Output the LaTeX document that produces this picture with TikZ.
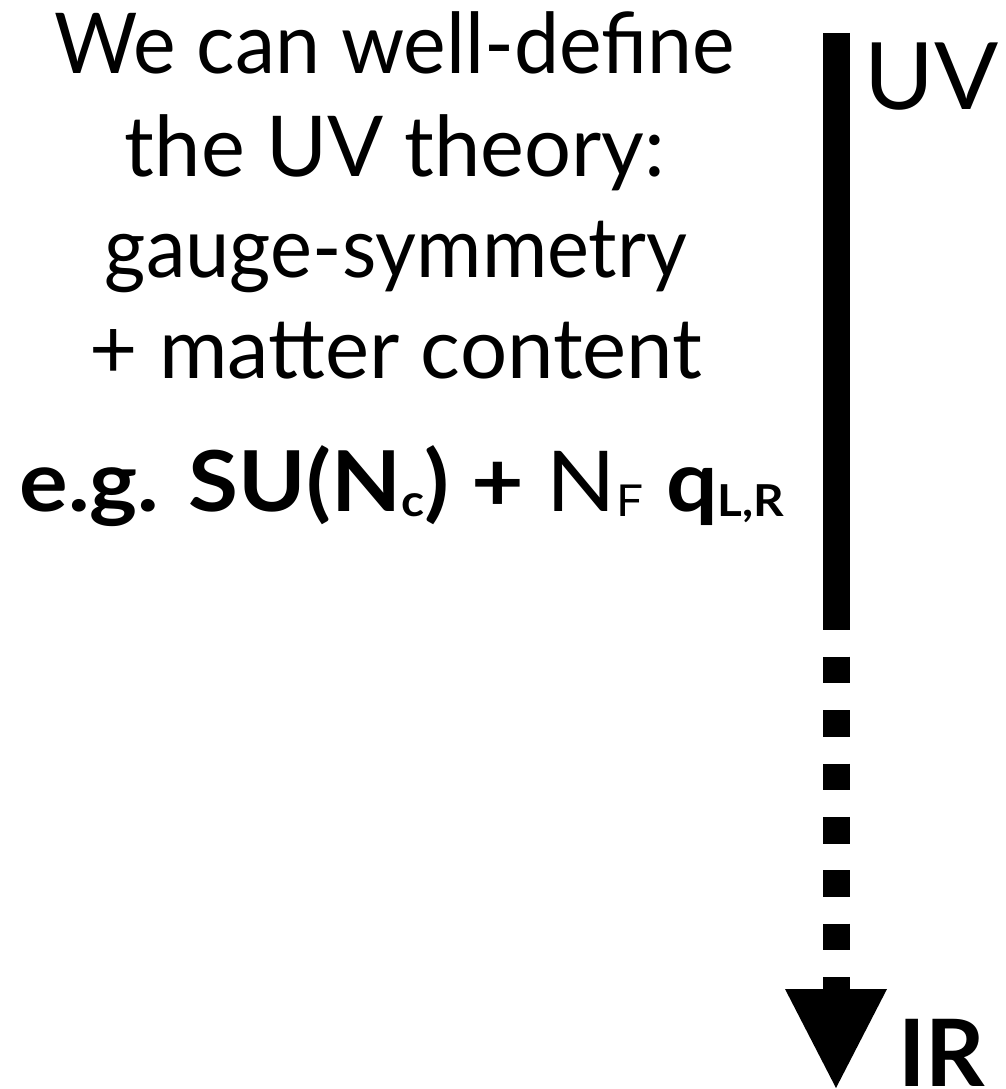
\documentclass[tikz,border=0pt]{standalone}
\usepackage{fontspec}
\usepackage{graphicx}
\setmainfont{Lato}
% lowered small subscript letters, set in the current weight
\newcommand\lowsub[1]{\raisebox{-5pt}{\fontsize{44pt}{44pt}\selectfont #1}}
\tikzset{
  lefttext/.style={anchor=base, inner sep=0pt, font=\fontsize{84pt}{84pt}\selectfont},
  endlabel/.style={anchor=base west, inner sep=0pt, font=\fontsize{93pt}{93pt}\selectfont},
  flow/.style={line width=27pt},
  flowdash/.style={flow, dash pattern=on 26.7pt off 26.7pt, dash phase=26.7pt},
}
\begin{document}
\begin{tikzpicture}[x=1pt,y=-1pt]
\useasboundingbox (0,0) rectangle (1006,1089);

% description of the UV theory
\node[lefttext] (l1) at (395,74)  {\resizebox{680pt}{\height}{We can well-define}};
\node[lefttext] (l2) at (395,176) {\resizebox{540pt}{\height}{the UV theory:}};
\node[lefttext] (l3) at (396,277) {\resizebox{582pt}{\height}{gauge-symmetry}};
\node[lefttext] (l4) at (396,378) {\resizebox{613pt}{\height}{+ matter content}};
\node[lefttext] (l5) at (402,511) {\resizebox{765pt}{\height}{\bfseries e.g. SU(N\lowsub{c}) + \mdseries N\lowsub{F} \bfseries q\lowsub{L,R}}};

% flow from UV to IR
\coordinate (top) at (836,33);
\coordinate (solidend) at (836,630);
\coordinate (headbase) at (836,990);
\coordinate (headL) at (785,989);
\coordinate (headR) at (887,989);
\coordinate (tip) at (836,1088);
\draw[flow] (top) -- (solidend);
\draw[flowdash] (solidend) -- (headbase);
\fill (headL) -- (headR) -- (tip) -- cycle;

\node[endlabel] (uv) at (864,110)  {\resizebox{134pt}{\height}{UV}};
\node[endlabel] (ir) at (898,1086) {\resizebox{87pt}{\height}{\bfseries IR}};
\end{tikzpicture}
\end{document}
